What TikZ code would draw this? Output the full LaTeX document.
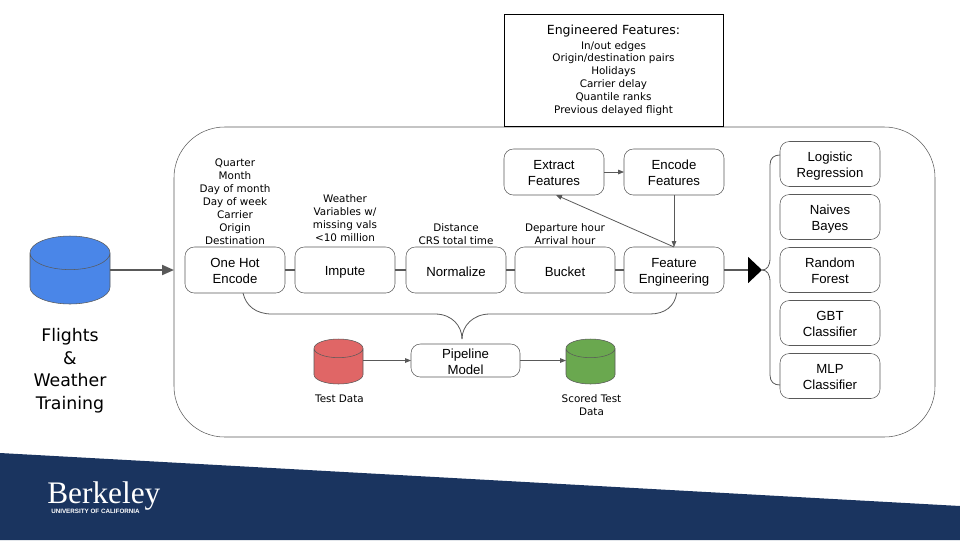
\documentclass[tikz,border=0pt]{standalone}
\usepackage{fontspec}
\setmainfont{Liberation Sans}
\newfontfamily\labelfont{DejaVu Sans}
\newfontfamily\logofont{Liberation Serif}
\usepackage{xcolor}
\usetikzlibrary{positioning, arrows.meta, shapes.geometric}
\definecolor{linegrey}{HTML}{595959}
\definecolor{bannerblue}{HTML}{1A345F}
\definecolor{flightblue}{HTML}{4A86E8}
\definecolor{testred}{HTML}{E06666}
\definecolor{scoredgreen}{HTML}{6AA84F}

\begin{document}
\begin{tikzpicture}[
	x=0.75pt, y=-0.75pt,
	box/.style={
		draw=linegrey,
		rectangle,
		rounded corners=7pt,
		outer sep=0pt,
		inner ysep=0pt,
		minimum width=75pt,
		minimum height=34.5pt,
		align=center,
		execute at begin node={\rule{0pt}{10.1pt}},
		execute at end node={\rule[-1pt]{0pt}{1pt}},
		font=\fontsize{9.9}{12}\selectfont
	},
	pair/.style={
		box,
		execute at begin node={\rule{0pt}{22.3pt}},
		execute at end node={\rule[-2pt]{0pt}{2pt}}
	},
	classbox/.style={
		pair,
		minimum height=33.75pt
	},
	note/.style={
		align=center,
		inner sep=0pt,
		font=\labelfont\fontsize{7.8}{9.75}\selectfont
	},
	drum/.style={
		draw=linegrey,
		cylinder,
		shape border rotate=90,
		shape aspect=3.5,
		anchor=shape center,
		outer sep=0pt
	},
	link/.style={draw=linegrey, line width=1.5pt},
	flow/.style={draw=linegrey, line width=0.6pt, -{Triangle[length=4.5pt,width=3.5pt]}},
	curl/.style={draw=linegrey, line width=0.6pt}
	]
	\useasboundingbox (0,0) rectangle (960,540);
	
	% Banner
	\fill[bannerblue] (0,453) -- (960,506) -- (960,540) -- (0,540) -- cycle;
	\node[text=white, inner sep=0pt, anchor=base west, font=\logofont\fontsize{23.5}{24}\selectfont] (berkeley) at (47,503) {Berkeley};
	\node[text=white, inner sep=0pt, anchor=base west, font=\bfseries\fontsize{4.7}{5}\selectfont] (california) at (51,513) {UNIVERSITY OF CALIFORNIA};
	
	% Main panel
	\node[draw=linegrey, rectangle, rounded corners=38pt, outer sep=0pt, minimum width=570.75pt, minimum height=232.5pt] (panel) at (554.5,282) {};
	
	% Engineered features box
	\node[draw=black, rectangle, outer sep=0pt, minimum width=164.25pt, minimum height=84pt, align=center, inner sep=0pt, font=\labelfont\fontsize{7.8}{9.6}\selectfont] (engineered) at (613.5,70) {{\fontsize{9.4}{12.5}\selectfont Engineered Features:}\\[1.5pt]In/out edges\\Origin/destination pairs\\Holidays\\Carrier delay\\Quantile ranks\\Previous delayed flight};
	
	% Pipeline row
	\node[pair] (onehot) at (235,270) {One Hot\\Encode};
	\node[box, right=7.5pt of onehot] (impute) {Impute};
	\node[box, right=8.25pt of impute] (normalize) {Normalize};
	\node[box, right=6.75pt of normalize] (bucket) {Bucket};
	\node[pair, right=6.75pt of bucket] (feature) {Feature\\Engineering};
	
	% Feature steps
	\node[pair, above=39pt of feature] (encode) {Encode\\Features};
	\node[pair, left=15pt of encode] (extract) {Extract\\Features};
	
	% Notes above the row
	\node[note, above=1.8pt of onehot] (onehotnote) {Quarter\\Month\\Day of month\\Day of week\\Carrier\\Origin\\Destination};
	\node[note, above=3.6pt of impute] (imputenote) {Weather\\Variables w/\\missing vals\\<10 million};
	\node[note, above=1.8pt of normalize] (normalizenote) {Distance\\CRS total time};
	\node[note, above=1.8pt of bucket] (bucketnote) {Departure hour\\Arrival hour};
	
	% Classifiers
	\node[classbox, right=42pt of feature] (forest) {Random\\Forest};
	\node[classbox, above=6pt of forest] (naives) {Naives\\Bayes};
	\node[classbox, above=6pt of naives] (logistic) {Logistic\\Regression};
	\node[classbox, below=6pt of forest] (gbt) {GBT\\Classifier};
	\node[classbox, below=6pt of gbt] (mlp) {MLP\\Classifier};
	
	% Flights source
	\node[drum, fill=flightblue, inner sep=3.6pt, minimum width=60pt, minimum height=51pt] (flights) at (70,270) {};
	\node[inner sep=0pt, align=center, font=\labelfont\fontsize{13}{16.9}\selectfont] (flightsnote) at (70,370.5) {Flights\\\&\\Weather\\Training};
	
	% Test row
	\node[pair, minimum width=81.75pt, minimum height=24.75pt] (model) at (465.5,360.5) {Pipeline\\Model};
	\node[drum, fill=testred, inner sep=2pt, minimum width=36.75pt, minimum height=33.75pt] (test) at (338.5,361.5) {};
	\node[drum, fill=scoredgreen, inner sep=2pt, minimum width=36.75pt, minimum height=33.75pt] (scored) at (590.5,361.5) {};
	\node[note, anchor=north] (testnote) at (339.5,394.5) {Test Data};
	\node[note, anchor=north] (scorednote) at (591.5,394.5) {Scored Test\\Data};
	
	% Brace points
	\coordinate (modeltip) at (462,339);
	\coordinate (classtip) at (762,270);
	\coordinate (classtop) at (780,155);
	\coordinate (classbot) at (780,385);
	
	% Connect boxes
	\draw[link, -{Triangle[length=9pt,width=7.5pt]}] (flights.east |- onehot) -- (flights.east |- onehot -| panel.west);
	\draw[link] (onehot) -- (impute);
	\draw[link] (impute) -- (normalize);
	\draw[link] (normalize) -- (bucket);
	\draw[link] (bucket) -- (feature);
	\draw[link, -{Triangle[length=10.5pt,width=19.5pt,black]}] (feature) -- (classtip);
	\draw[flow] (extract) -- (encode);
	\draw[flow] (encode) -- (feature);
	\draw[flow] (feature.north) -- ([xshift=1.5pt]extract.south);
	\draw[flow] (test.east |- model.west) -- (model.west);
	\draw[flow] (model.east) -- (scored.west |- model.east);
	
	% Braces
	\draw[curl] ([xshift=6pt]onehot.south) .. controls (246,306) and (256,314) .. (272,314) -- (435,314) .. controls (452,314) and (462,326) .. (modeltip);
	\draw[curl] ([xshift=2pt]feature.south) .. controls (675,306) and (665,314) .. (650,314) -- (490,314) .. controls (473,314) and (462,326) .. (modeltip);
	\draw[curl] (classtop) .. controls (774,155) and (770,158) .. (770,165) -- (770,258) .. controls (770,266) and (767,270) .. (classtip);
	\draw[curl] (classbot) .. controls (774,385) and (770,382) .. (770,375) -- (770,282) .. controls (770,274) and (767,270) .. (classtip);
	
\end{tikzpicture}
\end{document}
